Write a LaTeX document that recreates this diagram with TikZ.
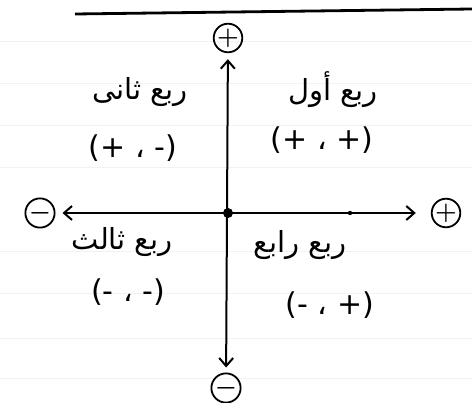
\documentclass[tikz,border=0pt]{standalone}
\usepackage{fontspec}
\setmainfont{DejaVu Sans}
\newfontfamily\arabicfont[Script=Arabic]{DejaVu Sans}
\newfontfamily\pairfont{DejaVu Sans}
\TeXXeTstate=1
\usetikzlibrary{arrows.meta}
\begin{document}
\begin{tikzpicture}[
  x=1pt, y=-1pt,
  quadaxis/.style = {line width=2pt, {Straight Barb[length=8pt,width=14pt,line width=2pt]}-{Straight Barb[length=8pt,width=14pt,line width=2pt]}},
  quadsign/.style = {draw, circle, line width=1.8pt, minimum size=22pt, inner sep=0pt, font=\fontsize{27}{27}\selectfont\boldmath},
  quadlbl/.style = {font=\arabicfont\fontsize{29}{34}\selectfont},
  quadpair/.style = {font=\pairfont\fontsize{30}{34}\selectfont},
  quadrule/.style = {black!5, line width=0.8pt}
]
  \useasboundingbox (0,0) rectangle (472,403);
  % ruled paper
  \fill[white] (0,0) rectangle (472,403);
  \foreach \ry in {41,83,125,167,251,293,338,378}
    \draw[quadrule] (0,\ry) -- (472,\ry);
  \draw[line width=2.8pt] (75,14) -- (472,9);
  % axis ends
  \coordinate (o) at (228,213);
  \node[quadsign] (yplus) at (228,38) {$+$};
  \node[quadsign] (yminus) at (226,388) {$-$};
  \node[quadsign] (xminus) at (40,213) {$-$};
  \node[quadsign] (xplus) at (446,213) {$+$};
  % axes
  \draw[quadaxis, shorten <=6pt, shorten >=5pt] (yplus) -- (yminus);
  \draw[quadaxis, shorten <=7pt, shorten >=15pt] (xminus) -- (xplus);
  \fill (o) circle (5pt);
  \fill (350,213) circle (2.2pt);
  % quadrants
  \node[quadlbl] (q1) at (333,90) {\beginR ربع أول\endR};
  \node[quadpair] (p1) at (322,140) {(+ ، +)};
  \node[quadlbl] (q2) at (140,92) {\beginR ربع ثانى\endR};
  \node[quadpair] (p2) at (133,148) {(+ ، -)};
  \node[quadlbl] (q3) at (122,242) {\beginR ربع ثالث\endR};
  \node[quadpair] (p3) at (128,292) {(- ، -)};
  \node[quadlbl] (q4) at (300,245) {\beginR ربع رابع\endR};
  \node[quadpair] (p4) at (330,305) {(- ، +)};
\end{tikzpicture}
\end{document}
